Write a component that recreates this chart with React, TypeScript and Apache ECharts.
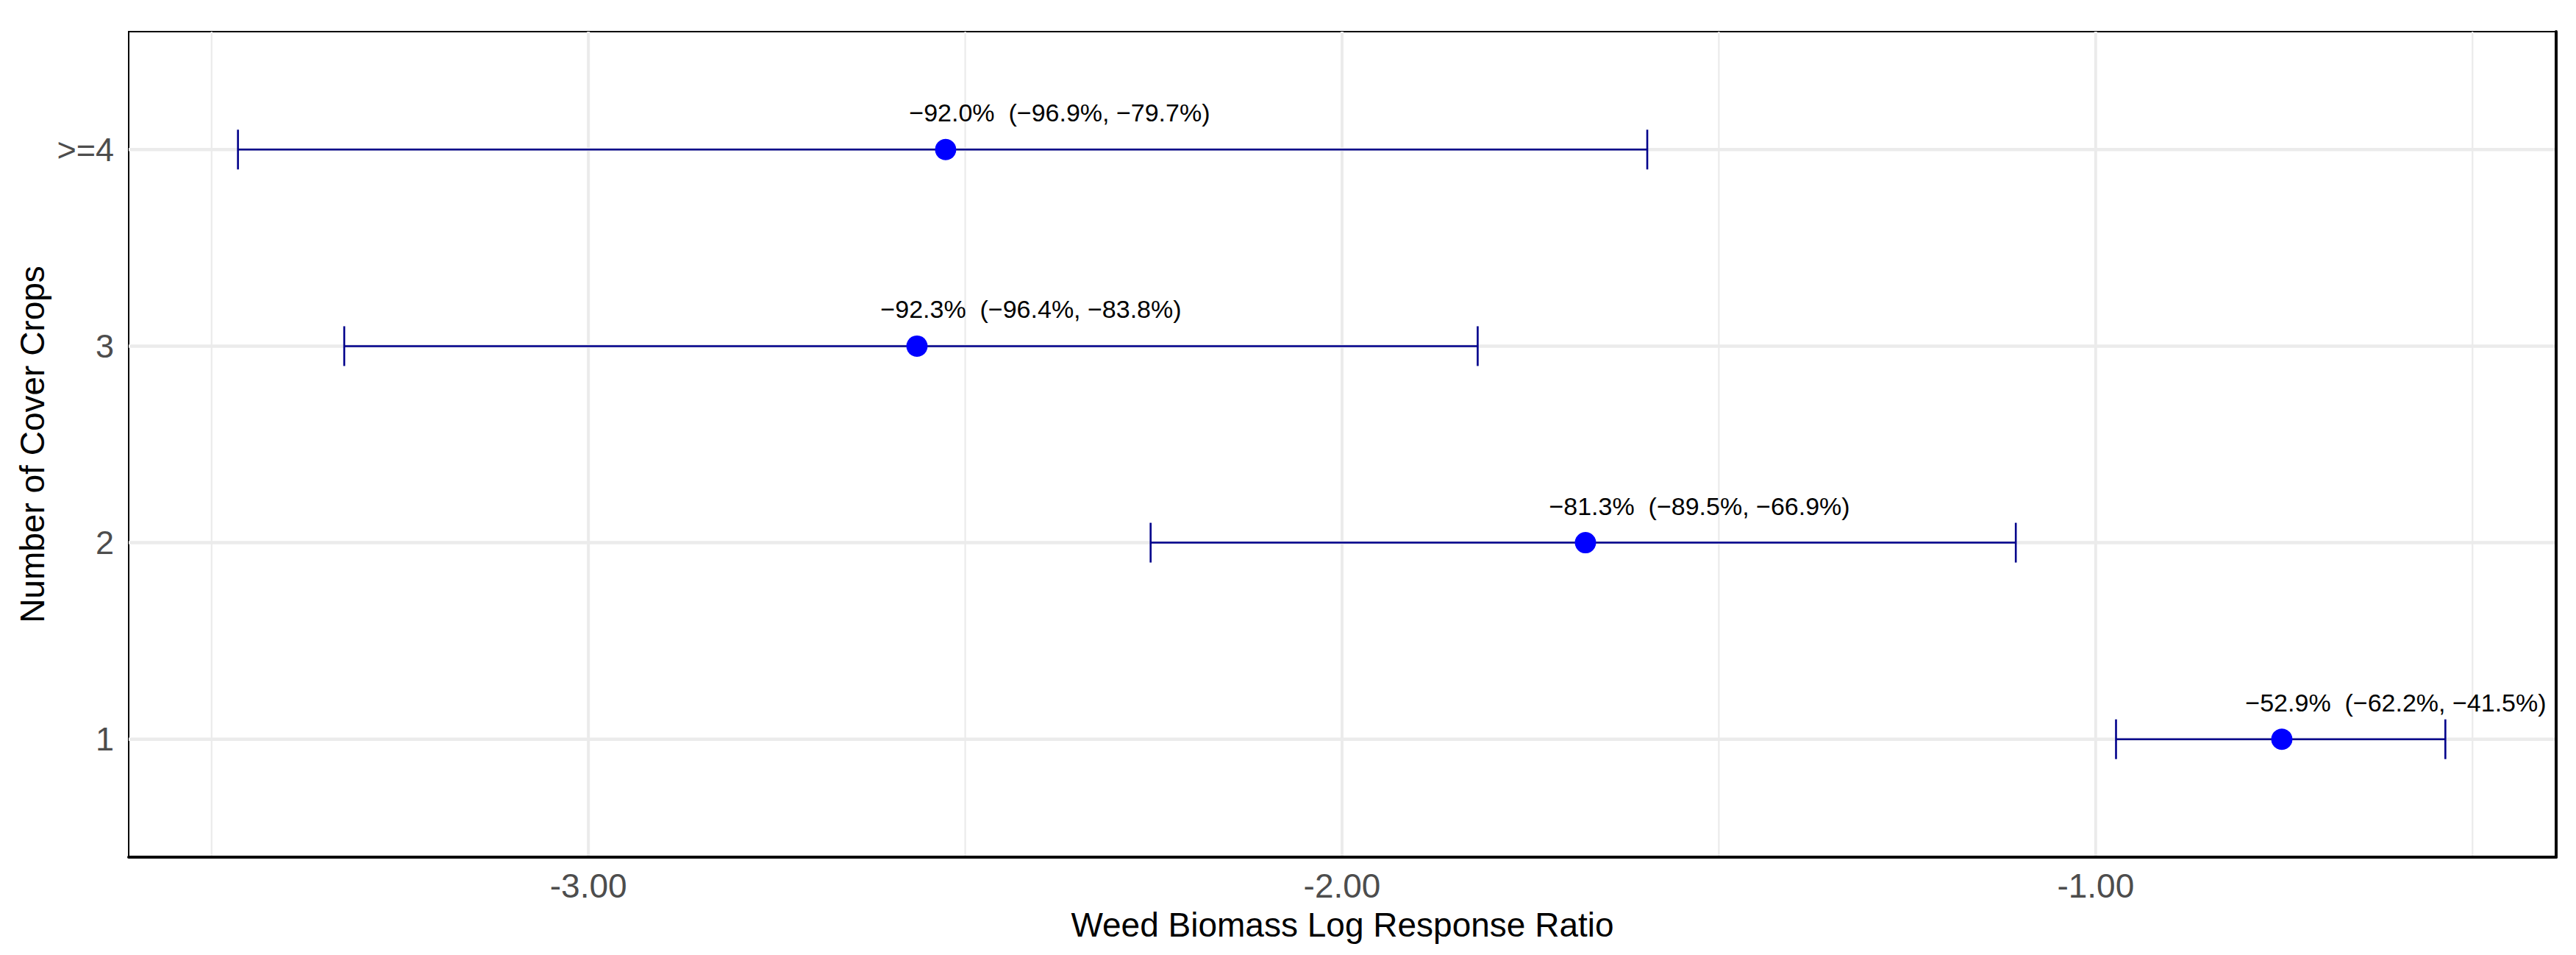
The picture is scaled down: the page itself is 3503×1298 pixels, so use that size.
import React, { useEffect, useRef } from "react";
import * as echarts from "echarts";

const categories = ["1", "2", "3", ">=4"];
const estimates = [-0.753, -1.677, -2.564, -2.526];
const lower = [-0.973, -2.254, -3.324, -3.465];
const upper = [-0.536, -1.106, -1.82, -1.595];
const pointLabels = [
  "\u221252.9%  (\u221262.2%, \u221241.5%)",
  "\u221281.3%  (\u221289.5%, \u221266.9%)",
  "\u221292.3%  (\u221296.4%, \u221283.8%)",
  "\u221292.0%  (\u221296.9%, \u221279.7%)",
];
const xMajorTicks = [-3, -2, -1];
const xMinorTicks = [-3.5, -2.5, -1.5, -0.5];
const yTicks = [1, 2, 3, 4];

const FONT = "'Liberation Sans', Arial, Helvetica, sans-serif";
const GRID_COLOR = "#EBEBEB";

export default function App() {
  const ref = useRef<HTMLDivElement>(null);

  useEffect(() => {
    if (!ref.current) return;
    const chart = echarts.init(ref.current, undefined, { renderer: "svg" });

    const vLine = (width: number) => (params: any, api: any) => {
      const cs = params.coordSys;
      const x = api.coord([api.value(0), 1])[0];
      return {
        type: "line",
        shape: { x1: x, y1: cs.y, x2: x, y2: cs.y + cs.height },
        style: { stroke: GRID_COLOR, lineWidth: width },
      };
    };
    const hLine = (width: number) => (params: any, api: any) => {
      const cs = params.coordSys;
      const y = api.coord([-2, api.value(0)])[1];
      return {
        type: "line",
        shape: { x1: cs.x, y1: y, x2: cs.x + cs.width, y2: y },
        style: { stroke: GRID_COLOR, lineWidth: width },
      };
    };

    const option: any = {
      animation: false,
      backgroundColor: "#ffffff",
      grid: {
        left: 175,
        right: 27,
        top: 43,
        bottom: 133,
        show: true,
        borderColor: "#000000",
        borderWidth: 2,
        backgroundColor: "transparent",
      },
      xAxis: {
        type: "value",
        min: -3.61,
        max: -0.389,
        z: 10,
        name: "Weed Biomass Log Response Ratio",
        nameLocation: "middle",
        nameGap: 69,
        nameTextStyle: { fontSize: 46, color: "#000000", fontFamily: FONT },
        axisLine: { show: true, onZero: false, lineStyle: { color: "#000000", width: 4 } },
        axisTick: { show: false },
        splitLine: { show: false },
        axisLabel: {
          customValues: xMajorTicks,
          formatter: (v: number) => v.toFixed(2),
          fontSize: 46,
          color: "#4D4D4D",
          fontFamily: FONT,
          margin: 16,
        },
      },
      yAxis: [
        {
          type: "value",
          min: 0.4,
          max: 4.6,
          z: 10,
          name: "Number of Cover Crops",
          nameLocation: "middle",
          nameRotate: 90,
          nameGap: 105,
          nameTextStyle: { fontSize: 46, color: "#000000", fontFamily: FONT },
          axisLine: { show: false },
          axisTick: { show: false },
          splitLine: { show: false },
          axisLabel: {
            customValues: yTicks,
            formatter: (v: number) => categories[Math.round(v) - 1] ?? "",
            fontSize: 45,
            color: "#4D4D4D",
            fontFamily: FONT,
            margin: 20,
          },
        },
        {
          type: "value",
          min: 0.4,
          max: 4.6,
          position: "right",
          z: 10,
          axisLine: { show: true, onZero: false, lineStyle: { color: "#000000", width: 4 } },
          axisTick: { show: false },
          splitLine: { show: false },
          axisLabel: { show: false },
        },
      ],
      series: [
        {
          type: "custom",
          z: 1,
          silent: true,
          data: xMinorTicks.map((v) => [v]),
          encode: { x: 0 },
          renderItem: vLine(2.2),
        },
        {
          type: "custom",
          z: 1,
          silent: true,
          data: xMajorTicks.map((v) => [v]),
          encode: { x: 0 },
          renderItem: vLine(4),
        },
        {
          type: "custom",
          z: 1,
          silent: true,
          data: yTicks.map((v) => [v]),
          encode: { y: 0 },
          renderItem: hLine(4.5),
        },
        {
          type: "custom",
          z: 3,
          silent: true,
          data: categories.map((_, i) => [lower[i], upper[i], i + 1]),
          encode: { x: [0, 1], y: 2 },
          renderItem: (params: any, api: any) => {
            const y = api.value(2);
            const p1 = api.coord([api.value(0), y]);
            const p2 = api.coord([api.value(1), y]);
            const h = 27;
            const style = { stroke: "#00008B", lineWidth: 2.6 };
            return {
              type: "group",
              children: [
                { type: "line", shape: { x1: p1[0], y1: p1[1], x2: p2[0], y2: p2[1] }, style },
                { type: "line", shape: { x1: p1[0], y1: p1[1] - h, x2: p1[0], y2: p1[1] + h }, style },
                { type: "line", shape: { x1: p2[0], y1: p2[1] - h, x2: p2[0], y2: p2[1] + h }, style },
              ],
            };
          },
        },
        {
          type: "scatter",
          z: 4,
          symbol: "circle",
          symbolSize: 29,
          data: estimates.map((v, i) => [v, i + 1]),
          itemStyle: { color: "#0000FF", opacity: 1 },
          label: {
            show: true,
            position: "inside",
            offset: [155, -50],
            formatter: (p: any) => pointLabels[p.dataIndex],
            fontSize: 34,
            color: "#000000",
            fontFamily: FONT,
            align: "center",
            verticalAlign: "middle",
          },
        },
      ],
    };

    chart.setOption(option);
    return () => chart.dispose();
  }, []);

  return (
    <div
      ref={ref}
      style={{ position: "fixed", left: 0, top: 0, width: 3503, height: 1298, background: "#ffffff" }}
    />
  );
}
